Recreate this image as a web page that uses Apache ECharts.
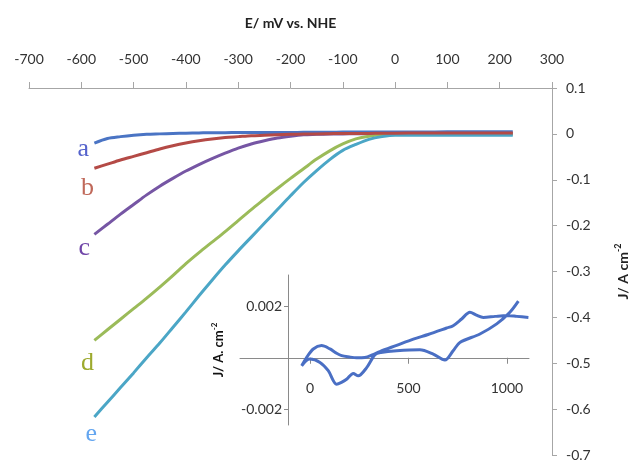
<!DOCTYPE html>
<html><head><meta charset="utf-8">
<script src="https://cdn.jsdelivr.net/npm/echarts@6/dist/echarts.min.js"></script>
<style>html,body{margin:0;padding:0;background:#fff}#c{width:632px;height:462px}</style>
</head><body><div id="c"></div>
<script>
// ---- main chart data (E in mV vs NHE, J in A cm^-2) ----
const potentials = [-575,-550,-525,-500,-475,-450,-425,-400,-375,-350,-325,-300,-275,-250,-225,-200,-175,-150,-125,-100,-75,-50,-25,0,50,100,150,200,225];
const curveA = [-0.020,-0.010,-0.006,-0.003,-0.001,0.000,0.001,0.0015,0.002,0.0025,0.0025,0.003,0.003,0.003,0.003,0.003,0.0035,0.0035,0.0035,0.004,0.004,0.004,0.004,0.004,0.004,0.0045,0.0045,0.0045,0.0045];
const curveB = [-0.075,-0.066,-0.057,-0.049,-0.041,-0.033,-0.026,-0.020,-0.015,-0.011,-0.008,-0.006,-0.004,-0.003,-0.002,-0.001,0,0,0.0005,0.001,0.001,0.001,0.0015,0.0015,0.002,0.002,0.002,0.002,0.002];
const curveC = [-0.219,-0.197,-0.175,-0.154,-0.133,-0.114,-0.097,-0.081,-0.067,-0.054,-0.042,-0.031,-0.022,-0.015,-0.009,-0.005,-0.002,-0.001,0,0,0.0005,0.0005,0.001,0.001,0.001,0.001,0.001,0.001,0.001];
const curveD = [-0.450,-0.427,-0.404,-0.381,-0.358,-0.334,-0.309,-0.283,-0.259,-0.236,-0.213,-0.189,-0.165,-0.142,-0.119,-0.097,-0.076,-0.055,-0.037,-0.022,-0.011,-0.005,-0.002,-0.001,-0.001,-0.001,-0.001,-0.001,-0.001];
const curveE = [-0.617,-0.585,-0.553,-0.521,-0.488,-0.456,-0.422,-0.388,-0.353,-0.319,-0.286,-0.255,-0.225,-0.195,-0.165,-0.135,-0.106,-0.080,-0.056,-0.036,-0.023,-0.012,-0.006,-0.003,-0.003,-0.003,-0.003,-0.003,-0.003];
const curveNames = ['a','b','c','d','e'];

// ---- inset data (cyclic voltammogram) ----
const insetE = [1109,1050,999,940,880,845,812,770,727,694,600,525,440,355,320,279,237,200,161,130,102,59,17,-17,-42,
                -20,0,51,93,135,160,186,220,245,288,330,360,440,558,626,685,727,761,863,948,1015,1058];
const insetJ = [0.00156,0.00160,0.00163,0.00160,0.00156,0.00165,0.00176,0.00150,0.00124,0.00115,0.00090,0.00072,0.00048,0.00024,0.00012,0.00001,0.0,0.00003,0.00008,0.00020,0.00034,0.00047,0.00034,0.00001,-0.00031,
                -0.00012,-0.00005,-0.00018,-0.00050,-0.00102,-0.00095,-0.00083,-0.00061,-0.00070,-0.00038,0.00012,0.00020,0.00027,0.00031,0.00014,-0.00009,0.00027,0.00059,0.00092,0.00131,0.00176,0.00219];
const insetXLabels = [0,500,1000];
const insetYLabels = [-0.002,0.002];

const FONT = 'Lato, "Open Sans", sans-serif';
const mainGray = '#a6a6a6';
const insetGray = '#8a8a8a';
const colors = ['#4A74C4','#B44A46','#7656A4','#9BBB59','#4BA6C6'];
const letterColors = ['#5563CC','#C0695A','#7046A8','#9DAA2E','#64A6F0'];

const chart = echarts.init(document.getElementById('c'));
const mainSeries = [curveA,curveB,curveC,curveD,curveE].map((vals,i)=>({
  name: curveNames[i], type:'line', xAxisIndex:0, yAxisIndex:0,
  data: potentials.map((x,k)=>[x, vals[k]]),
  showSymbol:false, symbol:'none', smooth:0.3,
  lineStyle:{width:3, color:colors[i]}, z: 2 + (i===1 ? 5 : i)
}));

chart.setOption({
  animation:false,
  grid:[
    {left:29, right:80, top:88, bottom:7, outerBoundsMode:'none', containLabel:false},
    {left:240, right:103, top:275, bottom:37, outerBoundsMode:'none', containLabel:false}
  ],
  xAxis:[
    {gridIndex:0, type:'value', position:'top', min:-700, max:300, interval:100,
     name:'E/ mV vs. NHE', nameLocation:'middle', nameGap:58,
     nameTextStyle:{fontFamily:FONT, fontWeight:'bold', fontSize:14, color:'#222'},
     axisLine:{show:true, onZero:false, lineStyle:{color:mainGray, width:1}},
     axisTick:{show:true, length:6, lineStyle:{color:mainGray}},
     axisLabel:{margin:22, fontSize:14, color:'#333', fontFamily:FONT},
     splitLine:{show:false}},
    {gridIndex:1, type:'value', min:-355, max:1112,
     axisLine:{show:true, onZero:true, lineStyle:{color:insetGray, width:1}},
     axisTick:{show:true, length:6, customValues:insetXLabels, lineStyle:{color:insetGray}},
     axisLabel:{customValues:insetXLabels, margin:-44, fontSize:14, color:'#333', fontFamily:FONT,
       formatter:v=>String(v)},
     splitLine:{show:false}}
  ],
  yAxis:[
    {gridIndex:0, type:'value', position:'right', min:-0.7, max:0.1, interval:0.1,
     name:'J/ A cm{sup|-2}', nameLocation:'middle', nameGap:62, nameRotate:90,
     nameTextStyle:{fontFamily:FONT, fontWeight:'bold', fontSize:14, color:'#222', lineHeight:18,
       rich:{sup:{fontFamily:FONT, fontWeight:'bold', fontSize:9, color:'#222', verticalAlign:'top', lineHeight:10}}},
     axisLine:{show:true, onZero:false, lineStyle:{color:mainGray, width:1}},
     axisTick:{show:true, length:5, lineStyle:{color:mainGray}},
     axisLabel:{margin:14, fontSize:14, color:'#333', fontFamily:FONT},
     splitLine:{show:false}},
    {gridIndex:1, type:'value', position:'left', offset:-48, min:-0.0026, max:0.0032,
     name:'J/ A. cm{sup|-2}', nameLocation:'middle', nameGap:60, nameRotate:90,
     nameTextStyle:{fontFamily:FONT, fontWeight:'bold', fontSize:13, color:'#111', lineHeight:18,
       rich:{sup:{fontFamily:FONT, fontWeight:'bold', fontSize:8, color:'#111', verticalAlign:'top', lineHeight:10}}},
     axisLine:{show:true, onZero:false, lineStyle:{color:insetGray, width:1}},
     axisTick:{show:true, length:4, customValues:insetYLabels, lineStyle:{color:insetGray}},
     axisLabel:{customValues:insetYLabels, margin:6, fontSize:14, color:'#333', fontFamily:FONT,
       formatter:v=>v.toFixed(3)},
     splitLine:{show:false}}
  ],
  series: mainSeries.concat([{
    name:'inset', type:'line', xAxisIndex:1, yAxisIndex:1,
    data: insetE.map((x,k)=>[x, insetJ[k]]),
    showSymbol:false, symbol:'none', smooth:0.3,
    lineStyle:{width:3, color:'#4A6FC4'}, z:10
  }])
});

// letter labels next to the first point of each curve
const offsets = [[-11,6],[-7,20],[-10,14],[-7,23],[-3,17]];
const firsts = [curveA,curveB,curveC,curveD,curveE].map(v=>v[0]);
chart.setOption({graphic: curveNames.map((t,i)=>{
  const p = chart.convertToPixel({xAxisIndex:0, yAxisIndex:0}, [potentials[0], firsts[i]]);
  return {type:'text', x:p[0]+offsets[i][0], y:p[1]+offsets[i][1], z:20,
    style:{text:t, fill:letterColors[i], fontSize:26, fontFamily:'"Liberation Serif", serif', align:'center', verticalAlign:'middle'}};
})});
</script></body></html>
